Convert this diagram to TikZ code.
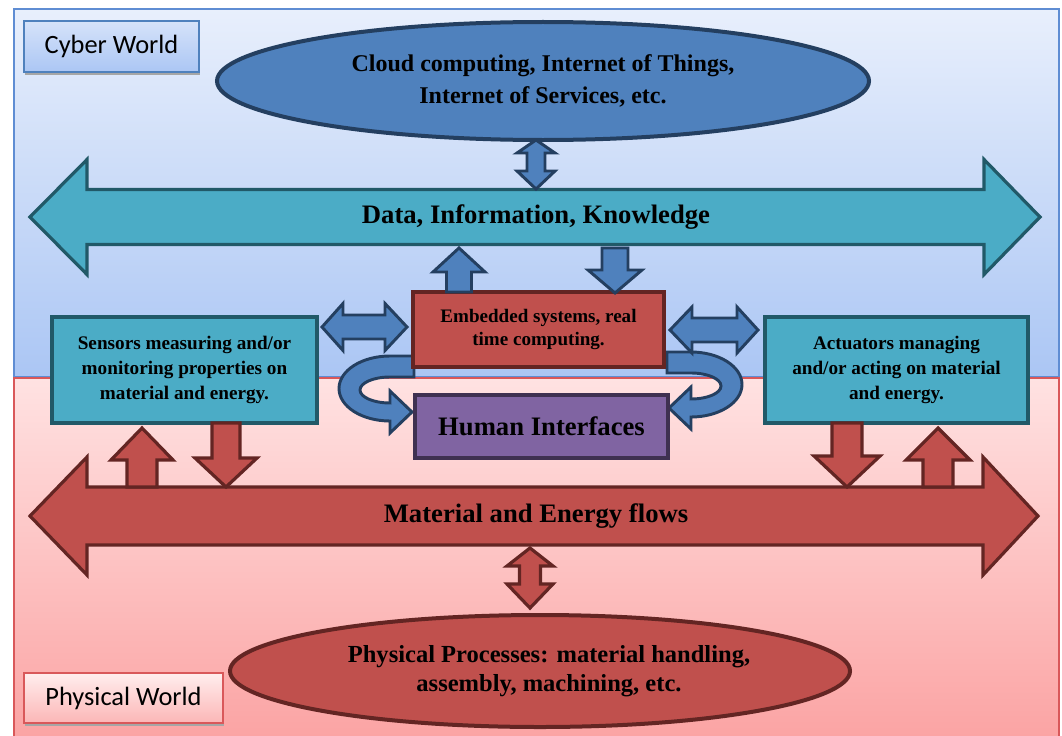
\documentclass[tikz,border=0pt]{standalone}
\usepackage{fontspec}
\setmainfont{Liberation Serif}
\newfontfamily\calfont{Carlito}
\usetikzlibrary{shapes.geometric}
\definecolor{bgblueT}{HTML}{E8EFFC}
\definecolor{bgblueB}{HTML}{ABC6F4}
\definecolor{bgblueE}{HTML}{5F8DD3}
\definecolor{bgpinkT}{HTML}{FFE2E2}
\definecolor{bgpinkB}{HTML}{FBA4A4}
\definecolor{bgpinkE}{HTML}{D9585A}
\definecolor{cblue}{HTML}{4F81BD}
\definecolor{cbluedk}{HTML}{243F60}
\definecolor{cteal}{HTML}{4BACC6}
\definecolor{ctealdk}{HTML}{215968}
\definecolor{cred}{HTML}{C0504D}
\definecolor{creddk}{HTML}{632523}
\definecolor{cpurp}{HTML}{8064A2}
\definecolor{cpurpdk}{HTML}{3F3151}
\def\px{0.75pt}
\newcommand\varr[7]{\path[#7] ({#1-#5},#2) -- ({#1-#5},#3) -- ({#1-#6},#3) -- (#1,#4) -- ({#1+#6},#3) -- ({#1+#5},#3) -- ({#1+#5},#2) -- cycle;}
\newcommand\vdarr[8]{\path[#8] (#1,#2) -- ({#1+#7},#3) -- ({#1+#6},#3) -- ({#1+#6},#4) -- ({#1+#7},#4) -- (#1,#5) -- ({#1-#7},#4) -- ({#1-#6},#4) -- ({#1-#6},#3) -- ({#1-#7},#3) -- cycle;}
\newcommand\hdarr[8]{\path[#8] (#2,#1) -- (#3,{#1-#7}) -- (#3,{#1-#6}) -- (#4,{#1-#6}) -- (#4,{#1-#7}) -- (#5,#1) -- (#4,{#1+#7}) -- (#4,{#1+#6}) -- (#3,{#1+#6}) -- (#3,{#1+#7}) -- cycle;}
\begin{document}
\begin{tikzpicture}[x=0.75pt,y=-0.75pt,
  bluesh/.style={fill=cblue,draw=cbluedk,line width=2.2pt,line join=miter},
  tealsh/.style={fill=cteal,draw=ctealdk,line width=2.4pt,line join=miter},
  redsh/.style={fill=cred,draw=creddk,line width=2.4pt,line join=miter},
  boxtext/.style={font=\bfseries\fontsize{14.4}{19}\selectfont,align=center,text=black},
  bigtext/.style={font=\bfseries\fontsize{20}{22}\selectfont,align=center,text=black},
  worldlbl/.style={rectangle,inner sep=0pt,line width=1pt,font=\calfont\fontsize{19.8}{22}\selectfont,text=black}
]
\useasboundingbox (0,0) rectangle (1062,735);
\fill[white] (0,0) rectangle (1062,735);
% world backgrounds
\shade[top color=bgblueT,bottom color=bgblueB] (14,9) rectangle (1059,377);
\draw[bgblueE,line width=1pt] (14,9) rectangle (1059,377);
\shade[top color=bgpinkT,bottom color=bgpinkB] (14,378) rectangle (1059,736);
\draw[bgpinkE,line width=1pt] (14,736) -- (14,378) -- (1059,378) -- (1059,736);
% world labels
\fill[gray!70] (25,24) rectangle (200,75);
\node[worldlbl,draw=cblue,top color=bgblueT!70!bgblueB,bottom color=bgblueB,minimum width={175*\px},minimum height={51*\px}] (cyber) at (111.5,46.5) {Cyber World};
\fill[gray!70] (25,676) rectangle (224,726);
\node[worldlbl,draw=bgpinkE,top color=bgpinkT!60!white,bottom color=bgpinkB!80!white,minimum width={199*\px},minimum height={50*\px}] (physw) at (123.5,698) {Physical World};
% big arrows
\hdarr{217}{30}{87}{984}{1040}{27.5}{57.5}{tealsh}
\node[bigtext] (dik) at (536,217) {Data, Information, Knowledge};
\hdarr{516}{30}{87}{983}{1038}{29}{59}{redsh}
\node[bigtext] (mef) at (536,516) {Material and Energy flows};
% ellipses
\node[ellipse,fill=cblue,draw=cbluedk,line width=3pt,minimum width={652*\px},minimum height={118*\px},inner sep=0pt] (cloud) at (543,81) {};
\node[font=\bfseries\fontsize{18}{23.5}\selectfont,align=center] (cloudtxt) at (cloud.center) {Cloud computing, Internet of Things,\\Internet of Services, etc.};
\node[ellipse,fill=cred,draw=creddk,line width=3pt,minimum width={620*\px},minimum height={112*\px},inner sep=0pt] (phys) at (540,671) {};
\node[font=\bfseries\fontsize{18.4}{22}\selectfont,align=center] (phystxt) at (549,671) {Physical Processes: material handling,\\assembly, machining, etc.};
% vertical double arrows
\vdarr{536}{140}{153}{171}{189}{9}{19}{bluesh}
\vdarr{530}{548}{566}{584}{608}{10.5}{23}{redsh}
% curved arrows
\path[bluesh] (414,356) -- (390,356) arc[start angle=270,end angle=90,x radius=51,y radius=32.5] -- (390,433) -- (412,412) -- (390,391) -- (390,403) arc[start angle=90,end angle=270,x radius=30,y radius=13] -- (414,377) -- cycle;
\path[bluesh] (667,352) -- (691,352) arc[start angle=-90,end angle=90,x radius=51,y radius=32.5] -- (691,429) -- (669,408) -- (691,387) -- (691,399) arc[start angle=90,end angle=-90,x radius=30,y radius=13] -- (667,373) -- cycle;
% boxes
\node[rectangle,fill=cred,draw=creddk,line width=3pt,minimum width={251*\px},minimum height={75*\px},boxtext,font=\bfseries\fontsize{14.3}{17}\selectfont] (emb) at (538.5,329.5) {Embedded systems, real\\time computing.};
\node[rectangle,fill=cpurp,draw=cpurpdk,line width=3pt,minimum width={253*\px},minimum height={63*\px},bigtext,font=\bfseries\fontsize{20}{22}\selectfont] (hum) at (541.5,426.5) {Human Interfaces};
\node[rectangle,fill=cteal,draw=ctealdk,line width=3pt,minimum width={265*\px},minimum height={106*\px},boxtext] (sens) at (184.5,370) {Sensors measuring and/or\\monitoring properties on\\material and energy.};
\node[rectangle,fill=cteal,draw=ctealdk,line width=3pt,minimum width={263*\px},minimum height={106*\px},boxtext] (act) at (896.5,370) {Actuators managing\\and/or acting on material\\and energy.};
% small blue arrows
\varr{459}{292}{272}{248}{12.5}{26}{bluesh}
\varr{615}{248}{270}{293}{13}{27}{bluesh}
\hdarr{327}{322}{343}{385}{407}{12}{23.5}{bluesh}
\hdarr{330}{670}{692}{737}{758}{12}{23}{bluesh}
% small red arrows
\varr{142}{487}{460}{428}{15}{31}{redsh}
\varr{226}{423}{458}{487}{14}{31}{redsh}
\varr{847}{423}{456}{487}{15}{33}{redsh}
\varr{938}{487}{460}{428}{15}{32}{redsh}
\end{tikzpicture}
\end{document}
